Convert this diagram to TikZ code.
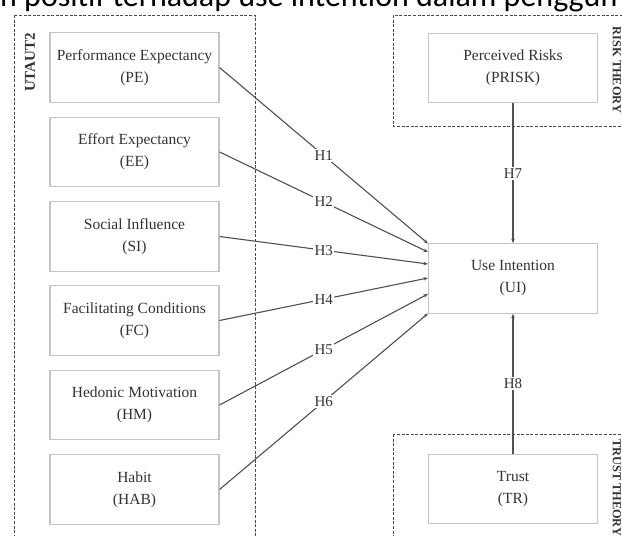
\documentclass[tikz,border=0pt]{standalone}
\usepackage{fontspec}
\setmainfont{Liberation Serif}
\newfontfamily\topfont{Carlito}
\usetikzlibrary{arrows.meta}
\definecolor{txtc}{HTML}{333333}
\definecolor{boxc}{HTML}{C4C4C4}
\definecolor{dashc}{HTML}{4A4A4A}
\definecolor{linec}{HTML}{505050}
\begin{document}
\begin{tikzpicture}[x=1pt,y=-1pt,
  box/.style={draw=boxc, line width=1.1pt, minimum width=169pt, minimum height=69.5pt,
    align=center, text=txtc, font=\fontsize{15.5}{22}\selectfont, inner sep=0pt},
  grp/.style={draw=dashc, line width=1pt, dash pattern=on 3pt off 1.6pt},
  conn/.style={draw=linec, line width=1.1pt, -{Stealth[length=4.5pt,width=3.5pt]}},
  lab/.style={fill=white, text=txtc, font=\fontsize{15}{18}\selectfont, inner sep=1.5pt},
  grplab/.style={text=txtc, inner sep=0pt, font=\bfseries\fontsize{12.3}{15}\selectfont}]
\fill[white] (0,0) rectangle (622,536);
\useasboundingbox (0,0) rectangle (622,536);
% cropped heading line
\node[anchor=base west, inner sep=0pt, font=\topfont\fontsize{32}{36}\selectfont] (head) at (0,6) {h positif terhadap use intention dalam penggun};
% group frames
\draw[grp] (14,15) rectangle (255,560);
\draw[grp] (393,15) rectangle (650,126);
\draw[grp] (393,434) rectangle (650,560);
\node[grplab, rotate=90, font=\bfseries\fontsize{15}{18}\selectfont] (lutaut) at (30,62.5) {UTAUT2};
\node[grplab, rotate=-90] (lrisk) at (617,70) {RISK THEORY};
\node[grplab, rotate=-90, anchor=west] (ltrust) at (617,439) {TRUST THEORY};
% boxes
\node[box] (PE) at (134.5,67.5) {Performance Expectancy\\(PE)};
\node[box] (EE) at (134.5,152) {Effort Expectancy\\(EE)};
\node[box] (SI) at (134.5,236.5) {Social Influence\\(SI)};
\node[box] (FC) at (134.5,320.5) {Facilitating Conditions\\(FC)};
\node[box] (HM) at (134.5,405) {Hedonic Motivation\\(HM)};
\node[box] (HAB) at (134.5,489.5) {Habit\\(HAB)};
\node[box] (PRISK) at (513,68) {Perceived Risks\\(PRISK)};
\node[box] (UI) at (513,278.5) {Use Intention\\(UI)};
\node[box] (TR) at (513,489) {Trust\\(TR)};
% connectors
\draw[conn] (PE.east) -- node[lab]{H1} ([yshift=35pt]UI.west);
\draw[conn] (EE.east) -- node[lab]{H2} ([yshift=26.5pt]UI.west);
\draw[conn] (SI.east) -- node[lab]{H3} ([yshift=14.5pt]UI.west);
\draw[conn] (FC.east) -- node[lab]{H4} ([yshift=0.5pt]UI.west);
\draw[conn] (HM.east) -- node[lab]{H5} ([yshift=-15.5pt]UI.west);
\draw[conn] (HAB.east) -- node[lab]{H6} ([yshift=-35pt]UI.west);
\draw[conn] (PRISK.south) -- node[lab]{H7} (UI.north);
\draw[conn] (TR.north) -- node[lab]{H8} (UI.south);
\end{tikzpicture}
\end{document}
